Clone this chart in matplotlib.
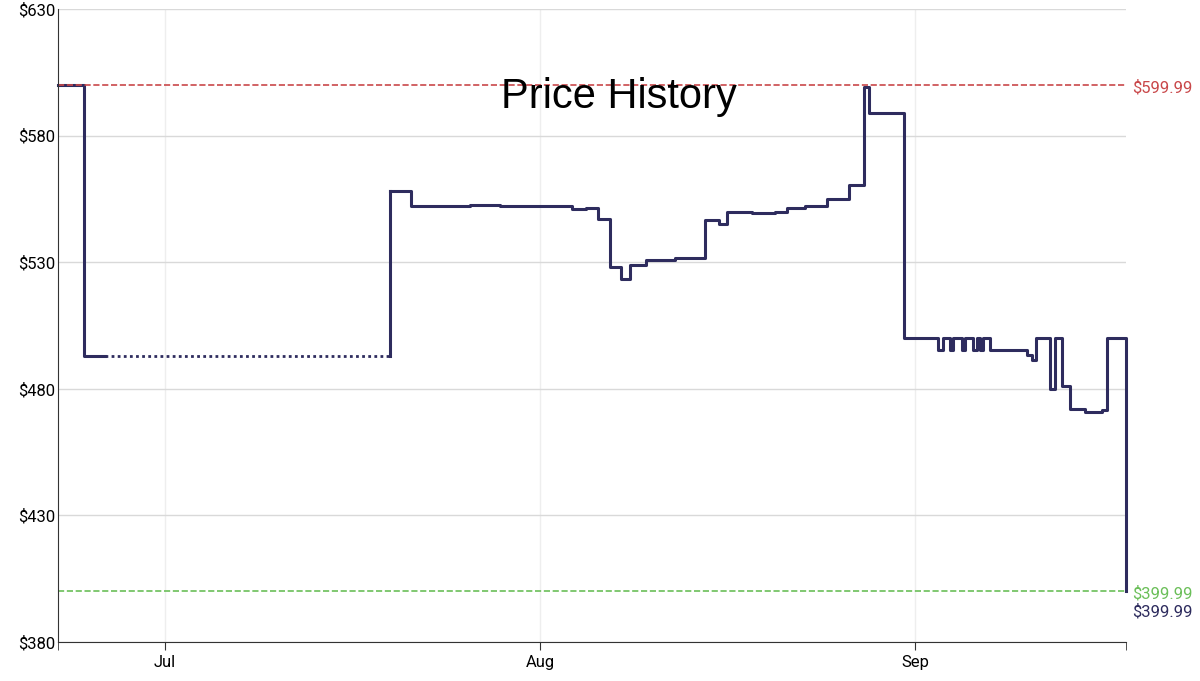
import matplotlib
matplotlib.use("Agg")
import matplotlib.pyplot as plt

# days relative to Jul 1, price in $
DAYS = [-8.84, -6.69, 18.60, 20.33, 25.21, 27.69, 32.64, 33.64, 34.79, 35.79,
        36.78, 37.69, 38.43, 39.75, 42.15, 44.63, 45.79, 46.45, 48.51, 50.41,
        51.40, 52.89, 54.71, 56.53, 57.77, 58.18, 61.07, 63.91, 64.27, 64.88,
        65.15, 65.84, 66.12, 66.80, 67.08, 67.36, 67.63, 68.18, 71.21, 71.63,
        71.98, 73.14, 73.55, 74.16, 74.79, 76.03, 77.41, 77.88, 79.42]
PRICES = [600, 493, 558, 552, 552.5, 552, 552.3, 551, 551.5, 547,
          528, 523.5, 529, 531, 531.7, 546.5, 545, 550, 549.5, 550,
          551.5, 552, 555, 560.5, 599, 589, 500, 495.5, 500, 495.5,
          500, 495.5, 500, 495.5, 500, 495.5, 500, 495.5, 493.5, 491.5,
          500, 480, 500, 481, 472, 471, 471.5, 500, 400]
GAP = (-4.96, 18.60)  # no-data stretch drawn dotted
HIGH, LOW = 599.99, 399.99
MONTHS = [0, 31, 62]
MONTH_LABELS = ["Jul", "Aug", "Sep"]
LINE = "#2e2c5e"
RED = "#c9484a"
GREEN = "#6bbf59"

plt.rcParams["font.family"] = ["Roboto", "DejaVu Sans"]
fig = plt.figure(figsize=(12, 6.81), dpi=100)
ax = fig.add_axes([0.0483, 0.0573, 0.89, 0.9295])

# solid steps except the dotted gap
ax.step(DAYS[:2] + [GAP[0]], PRICES[:2] + [PRICES[1]], where="post", color=LINE,
        lw=2.2, clip_on=False)
ax.plot(GAP, [PRICES[1]] * 2, color=LINE, lw=2, ls=(0, (1, 1.2)))
ax.step(DAYS[2:], PRICES[2:], where="post", color=LINE, lw=2.2, clip_on=False)
ax.plot([GAP[1]] * 2, [PRICES[1], PRICES[2]], color=LINE, lw=2.2)

ax.axhline(HIGH, color=RED, ls="--", lw=1.2)
ax.axhline(LOW, color=GREEN, ls="--", lw=1.2)
tr = ax.get_yaxis_transform()
ax.text(1.006, HIGH - 1, f"${HIGH}", transform=tr, color=RED, va="center", fontsize=12)
ax.text(1.006, LOW - 1, f"${LOW}", transform=tr, color=GREEN, va="center", fontsize=12)
ax.text(1.006, LOW - 8, f"${LOW}", transform=tr, color=LINE, va="center", fontsize=12)

ax.set_xlim(DAYS[0], DAYS[-1])
ax.set_ylim(380, 630)
ax.set_yticks(range(380, 631, 50))
ax.set_yticklabels([f"${v}" for v in range(380, 631, 50)])
ax.set_xticks(MONTHS)
ax.set_xticklabels(MONTH_LABELS)
ax.set_xticks([DAYS[0], DAYS[-1]], minor=True)
ax.tick_params(axis="x", which="both", length=6, color="#333333", labelsize=12)
ax.tick_params(axis="y", length=0, labelsize=12, pad=2)
ax.grid(axis="y", color="#d9d9d9", lw=1)
ax.grid(axis="x", color="#eeeeee", lw=1)
for s in ("top", "right"):
    ax.spines[s].set_visible(False)
for s in ("left", "bottom"):
    ax.spines[s].set_color("#333333")

ax.text(0.525, 0.861, "Price History", transform=ax.transAxes, ha="center",
        va="center", fontsize=30, family=["Liberation Sans", "DejaVu Sans"])

fig.savefig("out.png", dpi=100)
